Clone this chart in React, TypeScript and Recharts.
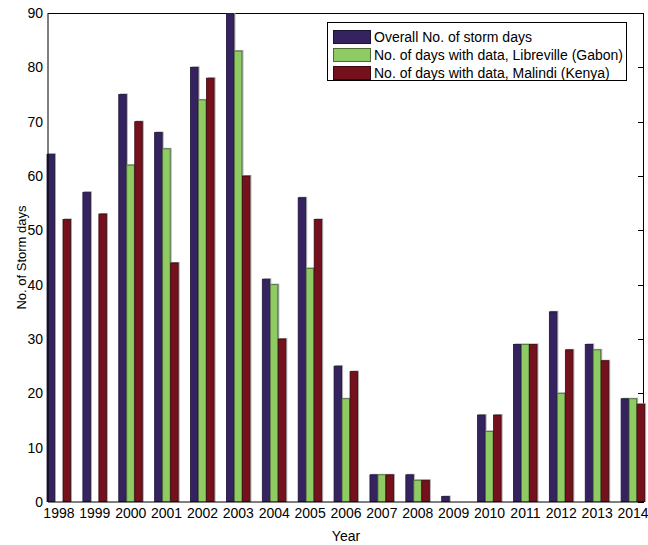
import * as R from "recharts"
import { BarChart, Bar, XAxis, YAxis, Legend } from "recharts"

const years = ["1998", "1999", "2000", "2001", "2002", "2003", "2004", "2005", "2006", "2007", "2008", "2009", "2010", "2011", "2012", "2013", "2014"]
const overall = [64, 57, 75, 68, 80, 90, 41, 56, 25, 5, 5, 1, 16, 29, 35, 29, 19]
const libreville = [0, 0, 62, 65, 74, 83, 40, 43, 19, 5, 4, 0, 13, 29, 20, 28, 19]
const malindi = [52, 53, 70, 44, 78, 60, 30, 52, 24, 5, 4, 0, 16, 29, 28, 26, 18]
const yTicks = [0, 10, 20, 30, 40, 50, 60, 70, 80, 90]
const yMax = 90

const series = [
  { key: "overall", name: "Overall No. of storm days", fill: "#35235f", stroke: "#1c1238" },
  { key: "libreville", name: "No. of days with data, Libreville (Gabon)", fill: "#8ecb63", stroke: "#4b6a36" },
  { key: "malindi", name: "No. of days with data, Malindi (Kenya)", fill: "#74111c", stroke: "#3c070d" },
]

const data = years.map((year, i) => ({
  year,
  overall: overall[i],
  libreville: libreville[i],
  malindi: malindi[i],
}))

const FONT = '"Liberation Sans", Arial, Helvetica, sans-serif'
const RAny = R as any

// matlab style bar with a thin grey shadow on top/right
function ShadedBar(props: any) {
  const { x, y, width, height, fill, stroke } = props
  if (!height || height <= 0) return null
  return (
    <g>
      <rect x={x + 1} y={y - 1} width={width} height={height + 1} fill="#a8a8a8" />
      <rect x={x} y={y} width={width - 0.5} height={height} fill={fill} stroke={stroke} strokeWidth={0.8} />
    </g>
  )
}

function usePlotBox() {
  if (RAny.usePlotArea) return RAny.usePlotArea()
  const off = RAny.useOffset ? RAny.useOffset() : null
  const w = RAny.useChartWidth ? RAny.useChartWidth() : null
  const h = RAny.useChartHeight ? RAny.useChartHeight() : null
  if (!off || !w || !h) return null
  return { x: off.left, y: off.top, width: w - off.left - off.right, height: h - off.top - off.bottom }
}

// box top/right edges with the inner ticks on the right side
function Frame() {
  const area = usePlotBox()
  if (!area) return null
  const right = area.x + area.width
  return (
    <g>
      <line x1={area.x} y1={area.y + 0.5} x2={right} y2={area.y + 0.5} stroke="#000" />
      <line x1={right - 0.5} y1={area.y} x2={right - 0.5} y2={area.y + area.height} stroke="#000" />
      {yTicks.map((t) => {
        const ty = Math.round(area.y + area.height * (1 - t / yMax)) + 0.5
        return <line key={t} x1={right - 6} y1={ty} x2={right} y2={ty} stroke="#000" />
      })}
    </g>
  )
}

function LegendBox() {
  return (
    <div
      style={{
        border: "1px solid #000",
        background: "#fff",
        width: 300,
        height: 59,
        padding: "5px 0 0 5px",
        boxSizing: "border-box",
        fontFamily: FONT,
        fontSize: 14,
        color: "#000",
      }}
    >
      {series.map((s) => (
        <div key={s.key} style={{ display: "flex", alignItems: "center", height: 18 }}>
          <span
            style={{
              display: "inline-block",
              width: 36,
              height: 12,
              background: s.fill,
              border: `1px solid ${s.stroke}`,
              marginRight: 3,
            }}
          />
          <span>{s.name}</span>
        </div>
      ))}
    </div>
  )
}

export default function App() {
  return (
    <div style={{ position: "absolute", left: 0, top: 0, background: "#fff" }}>
      <BarChart
        width={648}
        height={545}
        data={data}
        margin={{ top: 13, right: 4, bottom: 0, left: 0 }}
        barSize={8}
        barGap={0}
        style={{ fontFamily: FONT }}
      >
        <XAxis
          dataKey="year"
          height={43}
          padding={{ left: -7, right: -7 }}
          allowDataOverflow
          axisLine={{ stroke: "#000" }}
          tickLine={false}
          tickSize={0}
          tickMargin={6}
          interval={0}
          tick={{ fill: "#000", fontSize: 14 }}
          label={{ value: "Year", position: "insideBottom", offset: 4, fill: "#000", fontSize: 14 }}
        />
        <YAxis
          width={48}
          domain={[0, yMax]}
          ticks={yTicks}
          allowDataOverflow
          axisLine={{ stroke: "#000" }}
          tickLine={false}
          tickSize={0}
          tickMargin={5}
          tick={{ fill: "#000", fontSize: 14 }}
          label={{
            content: ({ viewBox }: any) => (
              <text
                x={viewBox.x + 21}
                y={viewBox.y + viewBox.height / 2}
                transform={`rotate(-90, ${viewBox.x + 21}, ${viewBox.y + viewBox.height / 2})`}
                textAnchor="middle"
                dominantBaseline="central"
                fontSize={13}
                fontFamily={FONT}
                fill="#000"
              >
                No. of Storm days
              </text>
            ),
          }}
        />
        <Legend
          layout="vertical"
          align="center"
          verticalAlign="middle"
          content={() => <LegendBox />}
          wrapperStyle={{ position: "absolute", left: 327, top: 22, width: 300 }}
        />
        {series.map((s) => (
          <Bar
            key={s.key}
            dataKey={s.key}
            name={s.name}
            fill={s.fill}
            stroke={s.stroke}
            shape={<ShadedBar />}
            isAnimationActive={false}
          />
        ))}
        <Frame />
      </BarChart>
    </div>
  )
}
